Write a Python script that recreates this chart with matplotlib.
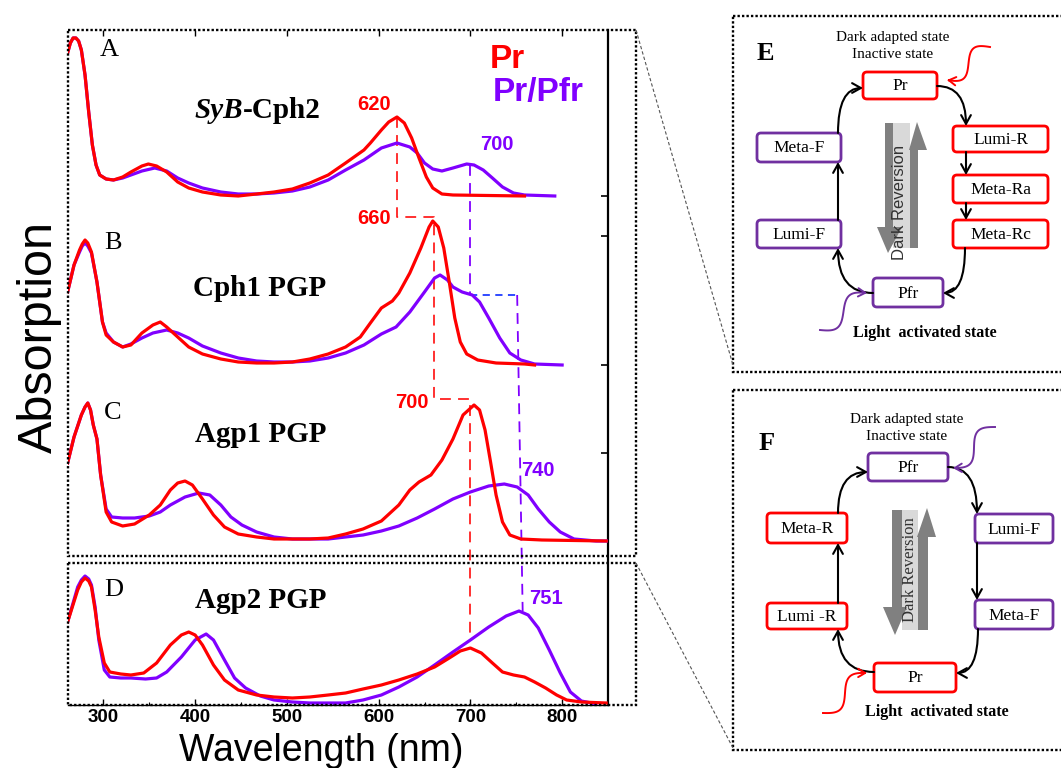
import numpy as np
import matplotlib
matplotlib.use('Agg')
import matplotlib.pyplot as plt
from matplotlib.patches import FancyBboxPatch, FancyArrowPatch, Polygon, Rectangle
from matplotlib.ticker import MultipleLocator

SERIF = ['Liberation Serif', 'DejaVu Serif']
SANS = ['Liberation Sans', 'DejaVu Sans']
plt.rcParams['font.family'] = SANS

RED = '#ff0000'
VIOLET = '#8000ff'
BOX_PURPLE = '#7030a0'

# ---- absorption spectra (wavelength in nm, absorbance in arbitrary units) ----
a_wl_pr = [261, 264, 267, 270, 273, 276, 280, 284, 288, 292, 296, 303, 311, 321, 330, 342, 349,
           358, 369, 381, 393, 408, 428, 447, 467, 486, 506, 525, 545, 564, 584, 591, 603, 611,
           620, 628, 636, 644, 652, 659, 669, 681, 759]
a_pr = [1.43, 1.53, 1.58, 1.58, 1.55, 1.46, 1.21, 0.84, 0.51, 0.31, 0.21, 0.17, 0.16, 0.19, 0.24,
        0.30, 0.32, 0.30, 0.24, 0.14, 0.08, 0.04, 0.01, 0.00, 0.02, 0.04, 0.07, 0.13, 0.21, 0.33,
        0.46, 0.53, 0.66, 0.74, 0.79, 0.73, 0.58, 0.38, 0.19, 0.08, 0.02, 0.01, 0.0]
a_wl_pfr = [261, 264, 267, 270, 273, 276, 280, 284, 288, 292, 296, 303, 311, 321, 330, 342, 356,
            369, 381, 393, 408, 428, 447, 467, 486, 506, 525, 545, 564, 584, 603, 620, 634, 642,
            650, 659, 669, 681, 696, 704, 714, 724, 735, 747, 759, 792]
a_pfr = [1.43, 1.53, 1.58, 1.58, 1.55, 1.46, 1.21, 0.84, 0.51, 0.31, 0.21, 0.17, 0.16, 0.18, 0.21,
         0.25, 0.28, 0.25, 0.18, 0.13, 0.08, 0.04, 0.02, 0.02, 0.03, 0.05, 0.09, 0.16, 0.26, 0.36,
         0.48, 0.53, 0.49, 0.43, 0.33, 0.27, 0.25, 0.28, 0.32, 0.31, 0.26, 0.18, 0.09, 0.03, 0.01,
         0.0]

b_wl_pr = [261, 268, 274, 277, 280, 283, 287, 293, 299, 303, 311, 321, 330, 342, 354, 362, 369,
           381, 393, 408, 428, 447, 467, 486, 506, 525, 545, 564, 580, 591, 603, 615, 622, 634,
           646, 655, 659, 665, 671, 677, 683, 689, 696, 708, 728, 759, 770]
b_pr = [0.73, 1.00, 1.15, 1.21, 1.25, 1.22, 1.13, 0.83, 0.43, 0.30, 0.23, 0.18, 0.20, 0.32, 0.40,
        0.43, 0.38, 0.28, 0.18, 0.11, 0.06, 0.03, 0.02, 0.02, 0.03, 0.06, 0.11, 0.18, 0.28, 0.42,
        0.57, 0.64, 0.72, 0.92, 1.17, 1.38, 1.44, 1.38, 1.17, 0.83, 0.47, 0.23, 0.11, 0.05, 0.02,
        0.01, 0.0]
b_wl_pfr = [261, 268, 274, 277, 280, 283, 287, 293, 299, 303, 311, 321, 330, 342, 354, 369, 381,
            393, 408, 428, 447, 467, 486, 506, 525, 545, 564, 584, 603, 619, 634, 650, 661, 667,
            675, 681, 691, 702, 710, 720, 732, 743, 755, 770, 800]
b_pfr = [0.73, 1.00, 1.13, 1.19, 1.22, 1.19, 1.12, 0.83, 0.43, 0.32, 0.23, 0.18, 0.21, 0.27, 0.32,
         0.35, 0.32, 0.27, 0.19, 0.12, 0.07, 0.04, 0.03, 0.03, 0.04, 0.07, 0.12, 0.20, 0.31, 0.38,
         0.53, 0.73, 0.87, 0.90, 0.85, 0.78, 0.73, 0.70, 0.63, 0.47, 0.27, 0.12, 0.05, 0.01, 0.0]

c_wl_pr = [261, 268, 276, 280, 283, 286, 289, 293, 297, 303, 309, 321, 334, 350, 362, 373, 381,
           389, 397, 408, 420, 432, 447, 467, 486, 506, 525, 545, 564, 583, 603, 622, 634, 644,
           657, 669, 681, 692, 704, 710, 716, 722, 728, 735, 743, 755, 778, 848]
c_pr = [0.78, 1.04, 1.26, 1.34, 1.38, 1.31, 1.16, 1.02, 0.66, 0.29, 0.19, 0.15, 0.17, 0.26, 0.36,
        0.51, 0.58, 0.60, 0.56, 0.42, 0.26, 0.14, 0.07, 0.04, 0.02, 0.02, 0.02, 0.03, 0.07, 0.12,
        0.20, 0.36, 0.51, 0.59, 0.66, 0.81, 1.02, 1.26, 1.36, 1.31, 1.11, 0.79, 0.46, 0.19, 0.06,
        0.02, 0.01, 0.0]
c_wl_pfr = [261, 268, 276, 280, 283, 286, 289, 293, 297, 303, 309, 321, 334, 350, 362, 373, 389,
            404, 416, 428, 439, 451, 467, 486, 506, 525, 545, 564, 583, 603, 622, 642, 661, 681,
            700, 720, 737, 751, 763, 774, 786, 798, 813, 837, 848]
c_pfr = [0.78, 1.04, 1.26, 1.34, 1.38, 1.31, 1.16, 1.02, 0.66, 0.32, 0.24, 0.23, 0.23, 0.25, 0.29,
         0.36, 0.44, 0.48, 0.46, 0.36, 0.24, 0.16, 0.09, 0.04, 0.02, 0.02, 0.02, 0.04, 0.06, 0.10,
         0.15, 0.23, 0.32, 0.42, 0.49, 0.55, 0.57, 0.54, 0.46, 0.32, 0.19, 0.09, 0.02, 0.0, 0.0]

d_wl_pr = [261, 272, 276, 280, 284, 287, 291, 295, 301, 307, 319, 330, 344, 358, 373, 385, 393,
           400, 408, 420, 432, 447, 467, 486, 506, 525, 545, 564, 583, 603, 622, 642, 661, 677,
           689, 700, 712, 724, 735, 747, 759, 770, 782, 794, 805, 821, 848]
d_pr = [0.82, 1.14, 1.22, 1.26, 1.23, 1.17, 0.94, 0.67, 0.41, 0.32, 0.30, 0.29, 0.31, 0.41, 0.59,
        0.69, 0.72, 0.69, 0.59, 0.39, 0.24, 0.14, 0.09, 0.07, 0.06, 0.07, 0.09, 0.11, 0.15, 0.19,
        0.24, 0.30, 0.37, 0.46, 0.53, 0.56, 0.51, 0.41, 0.32, 0.29, 0.27, 0.22, 0.16, 0.09, 0.04,
        0.02, 0.01]
d_wl_pfr = [261, 272, 276, 280, 284, 287, 291, 295, 301, 307, 319, 330, 346, 358, 369, 385, 400,
            412, 420, 432, 443, 455, 471, 486, 506, 525, 545, 564, 583, 603, 622, 642, 661, 681,
            700, 720, 739, 753, 763, 774, 786, 798, 809, 821, 837]
d_pfr = [0.82, 1.17, 1.24, 1.28, 1.25, 1.19, 0.97, 0.64, 0.34, 0.27, 0.26, 0.26, 0.25, 0.26, 0.32,
         0.47, 0.64, 0.70, 0.64, 0.44, 0.26, 0.16, 0.08, 0.04, 0.02, 0.01, 0.01, 0.01, 0.04, 0.09,
         0.17, 0.27, 0.39, 0.52, 0.64, 0.77, 0.88, 0.93, 0.89, 0.76, 0.54, 0.31, 0.12, 0.03, 0.0]

panel_letters = ['A', 'B', 'C', 'D']
panel_names = ['SyB-Cph2', 'Cph1 PGP', 'Agp1 PGP', 'Agp2 PGP']
offsets = [5.09, 3.40, 1.64, 0.01]
pr_peaks = [620, 660, 700, 700]
pfr_marks = [700, 702, 740, 751]
right_ticks = [1.64, 2.52, 3.40, 4.69, 5.09]
xticks = [300, 400, 500, 600, 700, 800]

spectra = [(a_wl_pr, a_pr, a_wl_pfr, a_pfr),
           (b_wl_pr, b_pr, b_wl_pfr, b_pfr),
           (c_wl_pr, c_pr, c_wl_pfr, c_pfr),
           (d_wl_pr, d_pr, d_wl_pfr, d_pfr)]

W, H = 1061, 768
fig = plt.figure(figsize=(W / 100, H / 100), dpi=100)
fig.patch.set_facecolor('white')

ax_l, ax_r, ax_t, ax_b = 67.6, 608, 30, 705
ax = fig.add_axes([ax_l / W, 1 - ax_b / H, (ax_r - ax_l) / W, (ax_b - ax_t) / H])
ax.set_xlim(261, 850)
ax.set_ylim(0, 6.75)

for (wl1, pr, wl2, pfr), off in zip(spectra, offsets):
    ax.plot(wl1, np.array(pr) + off, color=RED, lw=2.3, zorder=4, solid_joinstyle='round')
    ax.plot(wl2, np.array(pfr) + off, color=VIOLET, lw=2.3, zorder=3, solid_joinstyle='round')


def level(i, wl, which):
    w1, pr, w2, pfr = spectra[i]
    if which == 'pr':
        return offsets[i] + np.interp(wl, w1, pr)
    return offsets[i] + np.interp(wl, w2, pfr)


# dashed guides linking the red-band maxima of each construct
top_b = offsets[1] + max(b_pr) + 0.04
top_c = offsets[2] + max(c_pr) + 0.04
red_x = [pr_peaks[0], pr_peaks[0], pr_peaks[1], pr_peaks[1], pr_peaks[2], pr_peaks[3]]
red_y = [level(0, pr_peaks[0], 'pr'), top_b, top_b, top_c, top_c, level(3, pr_peaks[3], 'pfr')]
ax.plot(red_x, red_y, color='#ff2020', lw=1.3, ls=(0, (6, 4)), zorder=2)

yb = level(1, pfr_marks[1], 'pfr')
ax.plot([pfr_marks[0], pfr_marks[0]], [level(0, pfr_marks[0], 'pfr'), yb],
        color=VIOLET, lw=1.3, ls=(0, (6, 4)), zorder=2)
ax.plot([pfr_marks[0], pfr_marks[3]], [yb, yb], color='#1f3cff', lw=1.3, ls=(0, (4, 3)), zorder=2)
ax.plot([pfr_marks[3], pfr_marks[3] + 6], [yb, level(3, pfr_marks[3] + 2, 'pfr')],
        color=VIOLET, lw=1.3, ls=(0, (6, 4)), zorder=2)

# peak labels
peak_lbl = [('620', 595, 6.01, RED), ('700', 729, 5.60, VIOLET), ('660', 595, 4.87, RED),
            ('700', 636, 3.03, RED), ('740', 774, 2.35, VIOLET), ('751', 782, 1.07, VIOLET)]
for s, x, y, c in peak_lbl:
    ax.text(x, y, s, color=c, fontsize=14.5, fontweight='bold', ha='center', va='center', zorder=6)

letter_pos = [(306, 6.55), (310, 4.62), (310, 2.92), (311, 1.15)]
name_pos = [(470, 5.95), (470, 4.17), (472, 2.70), (472, 1.05)]
for i in range(4):
    ax.text(*letter_pos[i], panel_letters[i], family=SERIF, fontsize=19, ha='center', va='center')
    if i == 0:
        x, y = name_pos[i]
        ax.text(452, y, panel_names[0][:3], family=SERIF, fontsize=21, fontweight='bold',
                style='italic', ha='right', va='center')
        ax.text(452, y, panel_names[0][3:], family=SERIF, fontsize=21, fontweight='bold',
                ha='left', va='center')
    else:
        ax.text(*name_pos[i], panel_names[i], family=SERIF, fontsize=21, fontweight='bold',
                ha='center', va='center')

ax.text(740, 6.45, 'Pr', color=RED, fontsize=24, fontweight='bold', ha='center', va='center')
ax.text(774, 6.13, 'Pr/Pfr', color=VIOLET, fontsize=24, fontweight='bold', ha='center', va='center')

ax.set_xticks(xticks)
ax.set_xticklabels([str(t) for t in xticks], fontweight='bold', fontsize=13.5)
ax.xaxis.set_minor_locator(MultipleLocator(50))
ax.tick_params(axis='x', which='major', direction='in', top=True, length=4, width=1, pad=3)
ax.tick_params(axis='x', which='minor', direction='in', top=False, length=2, width=0.8)
ax.yaxis.tick_right()
ax.set_yticks(right_ticks)
ax.set_yticklabels([])
ax.tick_params(axis='y', direction='in', length=5, width=1.2)
for side in ['left', 'top']:
    ax.spines[side].set_visible(False)
ax.spines['right'].set_linewidth(1.6)
ax.spines['bottom'].set_linewidth(1.0)
ax.set_xlabel('Wavelength (nm)', fontsize=27, va='baseline')
ax.xaxis.set_label_coords((321 - ax_l) / (ax_r - ax_l), -(761 - ax_b) / (ax_b - ax_t))
ax.set_ylabel('Absorption', fontsize=35, va='center')
ax.yaxis.set_label_coords((39 - ax_l) / (ax_r - ax_l), (ax_b - 337) / (ax_b - ax_t))

# ---- overlay in pixel units for frames and the two photocycle schemes ----
ov = fig.add_axes([0, 0, 1, 1], zorder=5)
ov.set_xlim(0, W)
ov.set_ylim(H, 0)
ov.axis('off')

dots = dict(fill=False, ec='black', lw=1.7, ls=(0, (1, 0.9)))
ov.add_patch(Rectangle((ax_l, 30), 636 - ax_l, 556 - 30, **dots))
ov.add_patch(Rectangle((ax_l, 563), 636 - ax_l, 705 - 563, **dots))
ov.add_patch(Rectangle((733, 16), 340, 372 - 16, **dots))
ov.add_patch(Rectangle((733, 390), 340, 750 - 390, **dots))
ov.plot([636, 733], [30, 365], color='#555555', lw=0.8, ls=(0, (3, 2)))
ov.plot([636, 733], [563, 748], color='#555555', lw=0.8, ls=(0, (3, 2)))


def node(label, x0, y0, x1, y1, color):
    ov.add_patch(FancyBboxPatch((x0, y0), x1 - x0, y1 - y0, boxstyle='round,pad=0,rounding_size=4',
                                fc='white', ec=color, lw=2.0))
    ov.text((x0 + x1) / 2, (y0 + y1) / 2 + 1, label, family=SERIF, fontsize=12.5,
            ha='center', va='center')


def step(p0, p1, style=None):
    kw = dict(arrowstyle='->,head_length=0.45,head_width=0.25', mutation_scale=14,
              color='black', lw=1.5, shrinkA=0, shrinkB=0)
    if style:
        kw['connectionstyle'] = style
    ov.add_patch(FancyArrowPatch(p0, p1, **kw))


def squiggle(p0, p1, color):
    p0 = np.array(p0, float)
    p1 = np.array(p1, float)
    t = np.linspace(0, 1, 60)
    d = p1 - p0
    n = np.array([-d[1], d[0]]) / np.hypot(*d)
    pts = p0 + t[:, None] * d + 9 * np.sin(2 * np.pi * t)[:, None] * n
    ov.plot(pts[:-2, 0], pts[:-2, 1], color=color, lw=1.4)
    ov.annotate('', xy=pts[-1], xytext=pts[-5],
                arrowprops=dict(arrowstyle='->,head_length=0.5,head_width=0.3', color=color, lw=1.4))


def reversion(band, left, right, text_xy, family, color):
    bx0, bx1, by0, by1 = band
    ov.add_patch(Rectangle((bx0, by0), bx1 - bx0, by1 - by0, fc='#d9d9d9', ec='none'))
    ov.add_patch(Polygon(left, closed=True, fc='#808080', ec='none'))
    ov.add_patch(Polygon(right, closed=True, fc='#808080', ec='none'))
    ov.text(*text_xy, 'Dark Reversion', family=family, fontsize=12, rotation=90,
            ha='center', va='center', color=color)


# scheme E
ov.text(765, 53, 'E', family=SERIF, fontsize=19, fontweight='bold', ha='center', va='center')
ov.text(893, 37, 'Dark adapted state', family=SERIF, fontsize=11, ha='center', va='center')
ov.text(893, 55, 'Inactive state', family=SERIF, fontsize=11, ha='center', va='center')
ov.text(925, 333, 'Light  activated state', family=SERIF, fontsize=11.5, fontweight='bold',
        ha='center', va='center')
reversion((893, 910, 123, 248),
          [(885, 123), (893, 123), (893, 227), (902, 227), (888, 253), (877, 227), (885, 227)],
          [(910, 248), (918, 248), (918, 150), (927, 150), (917, 122), (909, 150), (910, 150)],
          (900, 202), SANS, '#333333')
for nd in [('Pr', 863, 72, 937, 99, RED), ('Lumi-R', 953, 126, 1048, 152, RED),
           ('Meta-Ra', 953, 175, 1048, 203, RED), ('Meta-Rc', 953, 220, 1048, 248, RED),
           ('Pfr', 873, 278, 943, 307, BOX_PURPLE), ('Lumi-F', 757, 220, 841, 248, BOX_PURPLE),
           ('Meta-F', 757, 133, 841, 162, BOX_PURPLE)]:
    node(*nd)
step((937, 86), (966, 126), 'angle3,angleA=0,angleB=90')
step((966, 152), (966, 175))
step((966, 203), (966, 220))
step((965, 248), (943, 293), 'angle3,angleA=90,angleB=0')
step((873, 293), (838, 248), 'angle3,angleA=0,angleB=90')
step((838, 220), (838, 162))
step((838, 133), (863, 88), 'angle3,angleA=90,angleB=0')
squiggle((990, 47), (947, 80), RED)
squiggle((820, 330), (867, 293), BOX_PURPLE)

# scheme F
ov.text(767, 443, 'F', family=SERIF, fontsize=19, fontweight='bold', ha='center', va='center')
ov.text(907, 419, 'Dark adapted state', family=SERIF, fontsize=11, ha='center', va='center')
ov.text(907, 437, 'Inactive state', family=SERIF, fontsize=11, ha='center', va='center')
ov.text(937, 712, 'Light  activated state', family=SERIF, fontsize=11.5, fontweight='bold',
        ha='center', va='center')
reversion((902, 918, 510, 630),
          [(892, 510), (902, 510), (902, 607), (907, 607), (895, 635), (883, 607), (892, 607)],
          [(918, 630), (928, 630), (928, 537), (936, 537), (927, 508), (917, 537), (918, 537)],
          (910, 570), SERIF, '#333333')
for nd in [('Pfr', 868, 453, 948, 481, BOX_PURPLE), ('Lumi-F', 975, 514, 1053, 543, BOX_PURPLE),
           ('Meta-F', 975, 600, 1053, 629, BOX_PURPLE), ('Pr', 874, 663, 956, 692, RED),
           ('Lumi -R', 767, 603, 847, 629, RED), ('Meta-R', 767, 513, 847, 543, RED)]:
    node(*nd)
step((948, 467), (977, 514), 'angle3,angleA=0,angleB=90')
step((977, 543), (977, 600))
step((978, 629), (956, 673), 'angle3,angleA=90,angleB=0')
step((874, 672), (838, 629), 'angle3,angleA=0,angleB=90')
step((838, 603), (838, 543))
step((838, 513), (868, 472), 'angle3,angleA=90,angleB=0')
squiggle((995, 427), (953, 468), BOX_PURPLE)
squiggle((823, 713), (867, 673), RED)

fig.savefig('out.png', dpi=100, facecolor='white')
